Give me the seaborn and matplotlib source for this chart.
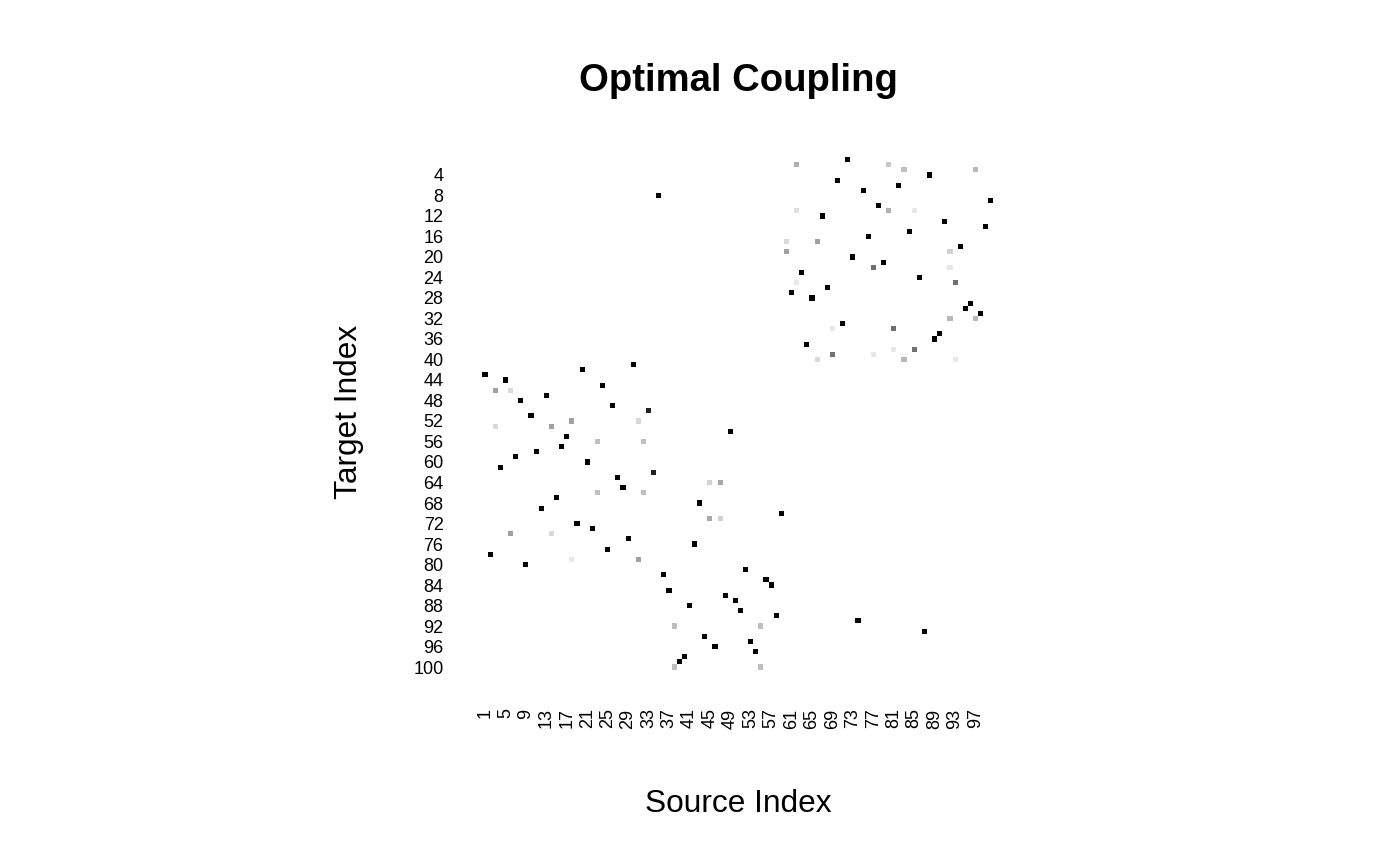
import numpy as np
import pandas as pd
import matplotlib
matplotlib.use("Agg")
import matplotlib.pyplot as plt
import seaborn as sns
from matplotlib.colors import LinearSegmentedColormap

# non-zero entries of the coupling matrix (target row, source column, relative mass)
target_rows = [1, 2, 2, 3, 3, 4, 5, 6, 7, 8, 9, 10, 11, 11, 11, 12, 13, 14, 15, 16,
               17, 17, 18, 19, 19, 20, 21, 22, 22, 23, 24, 25, 25, 26, 27, 28, 29, 30,
               31, 32, 32, 33, 34, 34, 35, 36, 37, 38, 38, 39, 39, 40, 40, 40,
               41, 42, 43, 44, 45, 46, 46, 47, 48, 49, 50, 51, 52, 52, 53, 53, 54, 55,
               56, 56, 57, 58, 59, 60, 61, 62, 63, 64, 64, 65, 66, 66, 67, 68, 69, 70,
               71, 71, 72, 73, 74, 74, 75, 76, 77, 78, 79, 79, 80, 81, 82, 83, 84, 85,
               86, 87, 88, 89, 90, 91, 92, 92, 93, 94, 95, 96, 97, 98, 99, 100, 100]
source_cols = [72, 62, 80, 83, 97, 88, 70, 82, 75, 35, 100, 78, 62, 80, 85, 67, 91, 99, 84, 76,
               60, 66, 94, 60, 92, 73, 79, 77, 92, 63, 86, 62, 93, 68, 61, 65, 96, 95,
               98, 92, 97, 71, 69, 81, 90, 89, 64, 81, 85, 69, 77, 66, 83, 93,
               30, 20, 1, 5, 24, 3, 6, 13, 8, 26, 33, 10, 18, 31, 3, 14, 49, 17,
               23, 32, 16, 11, 7, 21, 4, 34, 27, 45, 47, 28, 23, 32, 15, 43, 12, 59,
               45, 47, 19, 22, 6, 14, 29, 42, 25, 2, 18, 31, 9, 52, 36, 56, 57, 37,
               48, 50, 41, 51, 58, 74, 38, 55, 87, 44, 53, 46, 54, 40, 39, 38, 55]
mass = [1, .31, .22, .25, .28, 1, 1, 1, 1, 1, 1, 1, .12, .31, .09, 1, 1, 1, 1, 1,
        .15, .37, 1, .37, .18, 1, 1, .56, .09, 1, 1, .09, .56, 1, 1, 1, 1, 1,
        1, .28, .28, 1, .09, .56, 1, 1, 1, .09, .56, .56, .09, .15, .28, .09,
        1, 1, 1, 1, 1, .37, .15, 1, 1, 1, .87, 1, .37, .15, .15, .37, 1, 1,
        .25, .25, 1, 1, 1, 1, 1, .87, 1, .18, .34, 1, .25, .25, 1, 1, 1, 1,
        .34, .18, 1, 1, .37, .15, 1, 1, 1, 1, .09, .37, 1, 1, 1, 1, 1, 1,
        1, 1, 1, 1, 1, 1, .25, .25, 1, 1, 1, 1, 1, 1, 1, .25, .25]

n = 100
index = np.arange(1, n + 1)

df = pd.DataFrame({"target": target_rows, "source": source_cols, "mass": mass})
coupling = (df.pivot_table(index="target", columns="source", values="mass", aggfunc="sum")
              .reindex(index=index, columns=index)
              .fillna(0))

sns.set_theme(style="white")
plt.rcParams["font.family"] = ["Liberation Sans", "DejaVu Sans"]
plt.rcParams["text.color"] = "black"
plt.rcParams["xtick.color"] = "black"
plt.rcParams["ytick.color"] = "black"

cmap = LinearSegmentedColormap.from_list("wb", ["#ffffff", "#000000"])

fig = plt.figure(figsize=(14, 8.65), dpi=100)
ax = fig.add_axes([0.3446, 0.2259, 0.365, 0.5926])
sns.heatmap(coupling, cmap=cmap, vmin=0, vmax=1, cbar=False, ax=ax,
            xticklabels=4, yticklabels=False)

ytick_labels = index[3::4]
ax.set_yticks(ytick_labels - 0.5)
ax.set_yticklabels(ytick_labels)
ax.tick_params(axis="both", length=0, labelsize=13, pad=28, labelcolor="black")
ax.tick_params(axis="x", labelrotation=90)
plt.setp(ax.get_yticklabels(), rotation=0)
ax.set_xlabel("")
ax.set_ylabel("")

fig.text(738 / 1400, 1 - 81 / 865, "Optimal Coupling", ha="center", va="center",
         fontsize=27.5, fontweight="bold", color="black")
fig.text(738 / 1400, 1 - 804 / 865, "Source Index", ha="center", va="center",
         fontsize=22.8, color="black")
fig.text(349 / 1400, 1 - 412 / 865, "Target Index", ha="center", va="center",
         fontsize=22.8, rotation=90, color="black")

fig.savefig("out.png", dpi=100, facecolor="white")
